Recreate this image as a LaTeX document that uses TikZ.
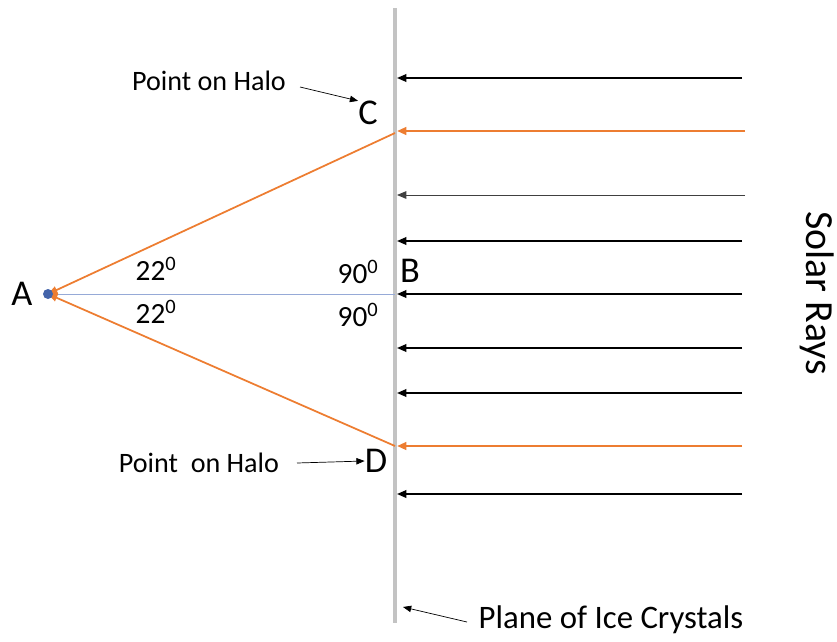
\documentclass[tikz,border=0pt]{standalone}
\usepackage{fontspec}
\setmainfont{Carlito}
\usetikzlibrary{arrows.meta}

\definecolor{haloorange}{RGB}{237,125,49}
\definecolor{dotblue}{RGB}{68,100,170}
\definecolor{lineblue}{RGB}{150,170,215}
\definecolor{planegray}{RGB}{195,195,195}

\begin{document}
\begin{tikzpicture}[
    x=0.03cm,
    y=-0.03cm,
    line cap=butt,
    ray/.style={
        line width=1.5pt,
        -{Triangle[length=8pt,width=6.5pt]}
    },
    thinray/.style={
        ray,
        line width=0.8pt,
        draw=black!75
    },
    halo/.style={
        draw=haloorange,
        line width=1.5pt,
        -{Triangle[length=8pt,width=6.5pt]}
    },
    pointer/.style={
        line width=0.6pt,
        -{Triangle[length=7pt,width=5.5pt]}
    },
    caption/.style={
        inner sep=0pt,
        font=\fontsize{24}{28}\selectfont
    },
    letter/.style={
        inner sep=0pt,
        font=\fontsize{31}{36}\selectfont
    },
    angle/.style={
        inner sep=0pt,
        font=\fontsize{25}{29}\selectfont
    }
]

\useasboundingbox (0,0) rectangle (837,641);

% -------------------------------------------------
% Parameters
% -------------------------------------------------

\def\px{395}    % plane of ice crystals
\def\rx{742}    % start of the solar rays

% -------------------------------------------------
% Main points
% -------------------------------------------------

\coordinate (Atip) at (48,294);   % observer
\coordinate (Bpt) at (\px,294);
\coordinate (Cpt) at (\px,133);
\coordinate (Dpt) at (\px,446);

% -------------------------------------------------
% Plane of ice crystals
% -------------------------------------------------

\coordinate (Ptop) at (\px,8);
\coordinate (Pbot) at (\px,623);
\draw[planegray, line width=3pt] (Ptop)--(Pbot);

% -------------------------------------------------
% Solar rays
% -------------------------------------------------

\foreach \y in {78,241,294,348,393,494}{
    \coordinate (Rs) at (\rx,\y);
    \coordinate (Re) at (\px+2,\y);
    \draw[ray] (Rs)--(Re);
}

\coordinate (Rs) at (745,195);
\coordinate (Re) at (\px+2,195);
\draw[thinray] (Rs)--(Re);

% Rays that reach the halo
\coordinate (RCs) at (745,131);
\coordinate (RCe) at (\px+2,131);
\draw[halo, line width=2pt] (RCs)--(RCe);

\coordinate (RDs) at (742,446);
\coordinate (RDe) at (\px+2,446);
\draw[halo, line width=2pt] (RDs)--(RDe);

% -------------------------------------------------
% Lines to the observer
% -------------------------------------------------

\draw[lineblue, line width=0.8pt] (Bpt)--(Atip);

\draw[halo] (Cpt)--(Atip);
\draw[halo] (Dpt)--(Atip);

\fill[dotblue] (Atip) circle (5);

% -------------------------------------------------
% Labels
% -------------------------------------------------

\node[letter] (A) at (22,294) {A};
\node[letter] (B) at (410,271) {B};
\node[letter] (C) at (368,113) {C};
\node[letter] (D) at (376,461) {D};

\node[angle] (aup) at (156,269) {22\textsuperscript{0}};
\node[angle] (adn) at (156,312) {22\textsuperscript{0}};
\node[angle] (bup) at (358,272) {90\textsuperscript{0}};
\node[angle] (bdn) at (358,315) {90\textsuperscript{0}};

\node[caption] (haloC) at (209,81) {Point on Halo};
\node[caption] (haloD) at (199,463) {Point\ \ on Halo};
\node[caption, font=\fontsize{28}{32}\selectfont] (plane) at (611,620) {Plane of Ice Crystals};
\node[caption, rotate=-90, font=\fontsize{34}{38}\selectfont] (solar) at (817,293) {Solar Rays};

% Pointers
\coordinate (pc) at (300,87);
\coordinate (pd) at (297,463);
\coordinate (pp) at (467,622);
\coordinate (pe) at (403,607);

\draw[pointer] (pc)--(C.north west);
\draw[pointer] (pd)--(D.west);
\draw[pointer] (pp)--(pe);

\end{tikzpicture}
\end{document}
